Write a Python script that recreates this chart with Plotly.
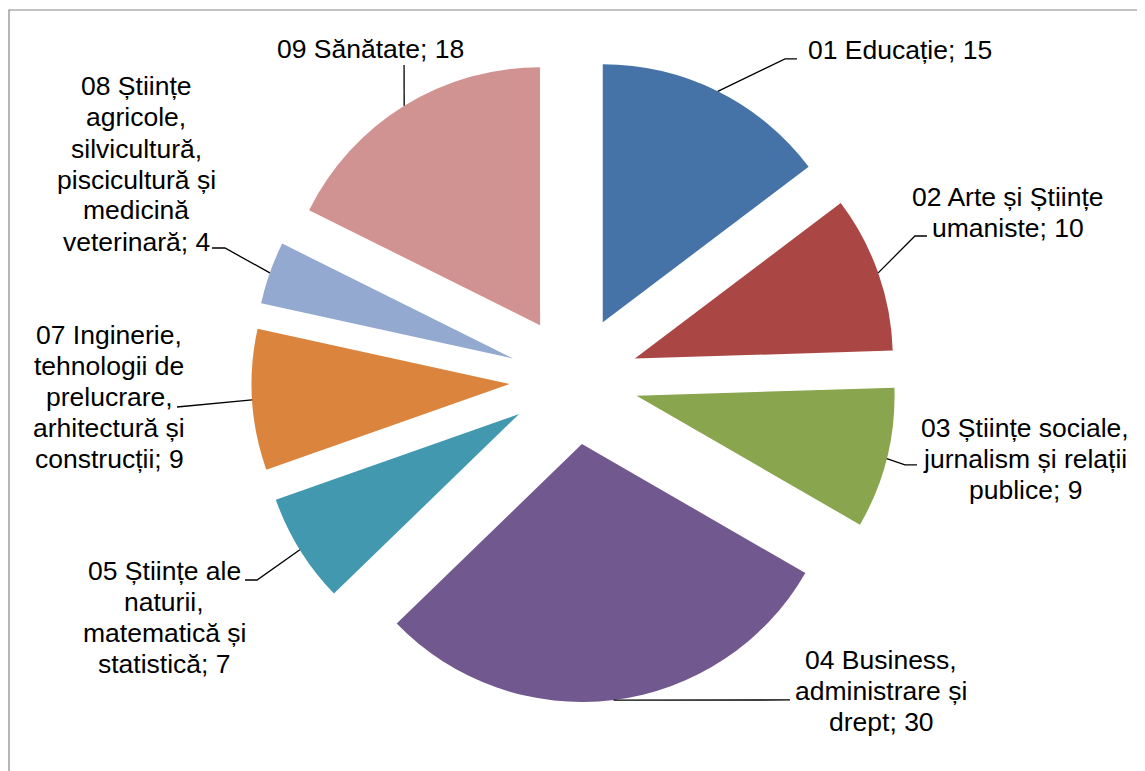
import math

import plotly.graph_objects as go

# data (no category 06 in the source)
categories = [
    "01 Educație",
    "02 Arte și Științe\numaniste",
    "03 Științe sociale,\njurnalism și relații\npublice",
    "04 Business,\nadministrare și\ndrept",
    "05 Științe ale\nnaturii,\nmatematică și\nstatistică",
    "07 Inginerie,\ntehnologii de\nprelucrare,\narhitectură și\nconstrucții",
    "08 Științe\nagricole,\nsilvicultură,\npiscicultură și\nmedicină\nveterinară",
    "09 Sănătate",
]
values = [15, 10, 9, 30, 7, 9, 4, 18]
colors = ["#4572A7", "#AA4643", "#89A54E", "#71588F",
          "#4198AF", "#DB843D", "#93A9CF", "#D19392"]

# layout, in window pixels (page body adds an 8px margin)
W, H, OFF = 1145, 771, 8
cx, cy, r, pull = 574, 380, 258, 0.25
font_size, line_h = 26.5, 31

label_centers = [(900, 50), (1008, 212), (1025, 459), (881, 691),
                 (164, 617), (109, 397), (136, 164), (370, 49)]
leader_ends = [
    [(785, 59), (797, 59)],
    [(915, 236), (927, 236)],
    [(905, 465), (917, 465)],
    [(790, 700)],
    [(257, 580), (245, 580)],
    [(177, 407)],
    [(225, 248), (212, 248)],
    [(404, 65)],
]


def px(x, y):
    return (x - OFF) / W, 1 - (y - OFF) / H


half = r * (1 + pull)
x0, y1 = px(cx - half, cy - half)
x1, y0 = px(cx + half, cy + half)
fig = go.Figure(go.Pie(
    labels=[c.replace("\n", " ") for c in categories],
    values=values,
    sort=False,
    direction="clockwise",
    rotation=0,
    pull=pull,
    marker=dict(colors=colors, line=dict(width=0)),
    textinfo="none",
    showlegend=False,
    domain=dict(x=[x0, x1], y=[y0, y1]),
))

total = sum(values)
cum = 0
annotations, shapes = [], []
for name, val, (lx, ly), ends in zip(categories, values, label_centers, leader_ends):
    mid = (cum + val / 2) / total * 2 * math.pi
    cum += val
    # leader starts on the outer arc of the pulled slice, at its mid angle
    sx = cx + r * (1 + pull) * math.sin(mid)
    sy = cy - r * (1 + pull) * math.cos(mid)
    pts = [(sx, sy)] + ends
    path = "M " + " L ".join("%.4f,%.4f" % px(x, y) for x, y in pts)
    shapes.append(dict(type="path", path=path, xref="paper", yref="paper",
                       line=dict(color="black", width=1.3)))

    lines = (name + "; " + str(val)).split("\n")
    n = len(lines)
    for i, txt in enumerate(lines):
        x, y = px(lx, ly + (i - (n - 1) / 2) * line_h)
        annotations.append(dict(text=txt, x=x, y=y, xref="paper", yref="paper",
                                xanchor="center", yanchor="middle",
                                showarrow=False,
                                font=dict(size=font_size, color="black")))

# chart-area frame (cropped on right/bottom in the source)
fx, fy = px(9, 10)
shapes.append(dict(type="rect", xref="paper", yref="paper",
                   x0=fx, y0=fy, x1=1.05, y1=-0.05,
                   line=dict(color="#868686", width=1.2)))

fig.update_layout(
    width=W, height=H,
    margin=dict(l=0, r=0, t=0, b=0),
    paper_bgcolor="white",
    plot_bgcolor="white",
    font=dict(family="Liberation Sans, Arial, sans-serif"),
    annotations=annotations,
    shapes=shapes,
)

fig.write_html("out.html")
